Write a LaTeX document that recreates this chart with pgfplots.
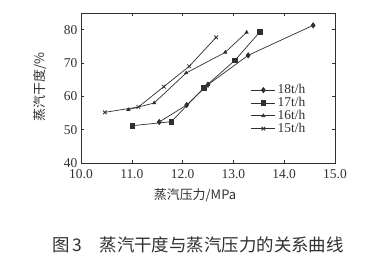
\documentclass[border=0pt]{standalone}
\usepackage{fontspec}
\setmainfont{Liberation Serif}
\newfontfamily\cjk{Noto Sans CJK SC}
\usepackage{pgfplots}
\pgfplotsset{compat=1.18}
\definecolor{ink}{HTML}{303030}
\begin{document}
\begin{tikzpicture}
\fontsize{13.5}{15}\selectfont
\begin{axis}[
  scale only axis, width=254bp, height=150bp,
  xmin=10, xmax=15, ymin=40, ymax=85,
  xtick={10,11,...,15}, ytick={40,50,...,80},
  xticklabel style={yshift=-2bp, /pgf/number format/.cd, fixed, fixed zerofill, precision=1},
  yticklabel style={xshift=1bp},
  /pgf/number format/assume math mode=true,
  tick align=inside, major tick length=3bp,
  axis line style={ink, line width=0.9pt},
  every tick/.style={ink, line width=0.6pt},
  ticklabel style={ink, font=\fontsize{13.5}{15}\selectfont},
  axis background/.style={fill=white},
  legend style={draw=none, fill=none, at={(rel axis cs:0.665,0.545)}, anchor=north west,
    font=\fontsize{13.5}{15}\selectfont, text=ink, row sep=-2.5bp, inner sep=1pt},
  legend cell align=left,
  legend image code/.code={\draw[#1] (0cm,0cm) -- (0.42cm,0cm) plot coordinates {(0.42cm,0cm)} -- (0.84cm,0cm);},
  every axis plot/.append style={ink, line width=0.7pt},
]
\addplot[mark=diamond*, mark size=2.6pt] coordinates {
 (11.54,52.3) (12.08,57.4) (12.50,63.5) (13.29,72.3) (14.57,81.3)};
\addlegendentry{18t/h}
\addplot[mark=square*, mark size=2.4pt] coordinates {
 (11.01,51.2) (11.78,52.4) (12.42,62.6) (13.03,70.8) (13.52,79.3)};
\addlegendentry{17t/h}
\addplot[mark=triangle*, mark size=1.8pt] coordinates {
 (10.93,56.0) (11.44,58.0) (12.07,67.0) (12.84,73.2) (13.26,79.2)};
\addlegendentry{16t/h}
\addplot[mark=x, mark size=2.6pt, mark options={line width=0.8pt}] coordinates {
 (10.47,55.2) (11.13,56.8) (11.63,62.9) (12.13,69.0) (12.66,77.7)};
\addlegendentry{15t/h}
\coordinate (sw) at (rel axis cs:0,0);
\coordinate (ne) at (rel axis cs:1,1);
\end{axis}
\node[rotate=90, text=ink, font=\cjk\fontsize{13}{15}\selectfont] at ([xshift=-41bp,yshift=76bp]sw) {蒸汽干度/\%};
\node[text=ink, font=\cjk\fontsize{13}{15}\selectfont] at ([xshift=114bp,yshift=-32bp]sw) {蒸汽压力/MPa};
\node[text=ink, font=\cjk\fontsize{17.5}{19}\selectfont] at ([xshift=117bp,yshift=-82bp]sw) {图\,3\quad 蒸汽干度与蒸汽压力的关系曲线};
\path ([xshift=-81bp,yshift=-97bp]sw) rectangle ++(389bp,260bp);
\end{tikzpicture}
\end{document}
